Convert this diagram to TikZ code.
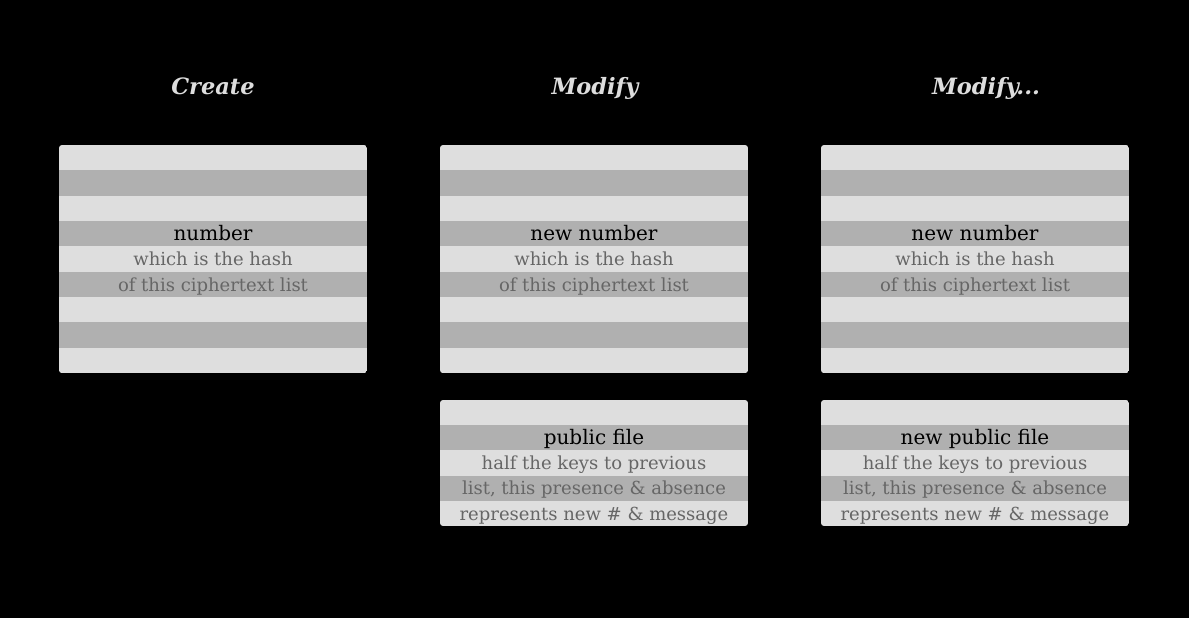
\documentclass[tikz,border=0pt]{standalone}
\usepackage{fontspec}
\setmainfont{DejaVu Serif}
\definecolor{rowlight}{HTML}{DEDEDE}
\definecolor{rowdark}{HTML}{B0B0B0}
\definecolor{notegray}{HTML}{666666}
\definecolor{titlegray}{HTML}{DDDDDD}
\tikzset{
  title/.style={anchor=base,inner sep=0pt,text=titlegray,font=\fontsize{22.5}{26}\selectfont\bfseries\itshape},
  note/.style={anchor=base,inner sep=0pt,text=notegray,font=\fontsize{18}{21}\selectfont},
  head/.style={note,text=black,font=\fontsize{20}{23}\selectfont}
}
\begin{document}
\begin{tikzpicture}[x=1pt,y=-1pt]
  \fill[black] (0,0) rectangle (1189,618);
  % striped boxes
  \foreach \bx/\by/\nr/\last/\rh in {59/145/9/7/25.35,440/145/9/7/25.35,821/145/9/7/25.35,440/400/5/3/25.2,821/400/5/3/25.2}{
    \begin{scope}
      \clip[rounded corners=3pt] (\bx,\by) rectangle ++(308,{\nr*\rh});
      \fill[rowlight] (\bx,\by) rectangle ++(308,{\nr*\rh});
      \foreach \r in {1,3,...,\last}
        \fill[rowdark] (\bx,{\by+\r*\rh}) rectangle ++(308,\rh);
    \end{scope}
  }
  % titles
  \node[title] (create) at (213,94.5) {Create};
  \node[title] (modify) at (595,94.5) {Modify};
  \node[title] (modifymore) at (986,94.5) {Modify...};
  % hash boxes
  \node[head] (num) at (213,240.5) {number};
  \node[note] (hash) at (213,265.8) {which is the hash};
  \node[note] (list) at (213,291.1) {of this ciphertext list};
  \node[head] (numb) at (594,240.5) {new number};
  \node[note] (hashb) at (594,265.8) {which is the hash};
  \node[note] (listb) at (594,291.1) {of this ciphertext list};
  \node[head] (numc) at (975,240.5) {new number};
  \node[note] (hashc) at (975,265.8) {which is the hash};
  \node[note] (listc) at (975,291.1) {of this ciphertext list};
  % public files
  \node[head] (pub) at (594,444.5) {public file};
  \node[note] (keys) at (594,469.6) {half the keys to previous};
  \node[note] (pres) at (594,494.8) {list, this presence \& absence};
  \node[note] (repr) at (594,520) {represents new \# \& message};
  \node[head] (pubc) at (975,444.5) {new public file};
  \node[note] (keysc) at (975,469.6) {half the keys to previous};
  \node[note] (presc) at (975,494.8) {list, this presence \& absence};
  \node[note] (reprc) at (975,520) {represents new \# \& message};
\end{tikzpicture}
\end{document}
